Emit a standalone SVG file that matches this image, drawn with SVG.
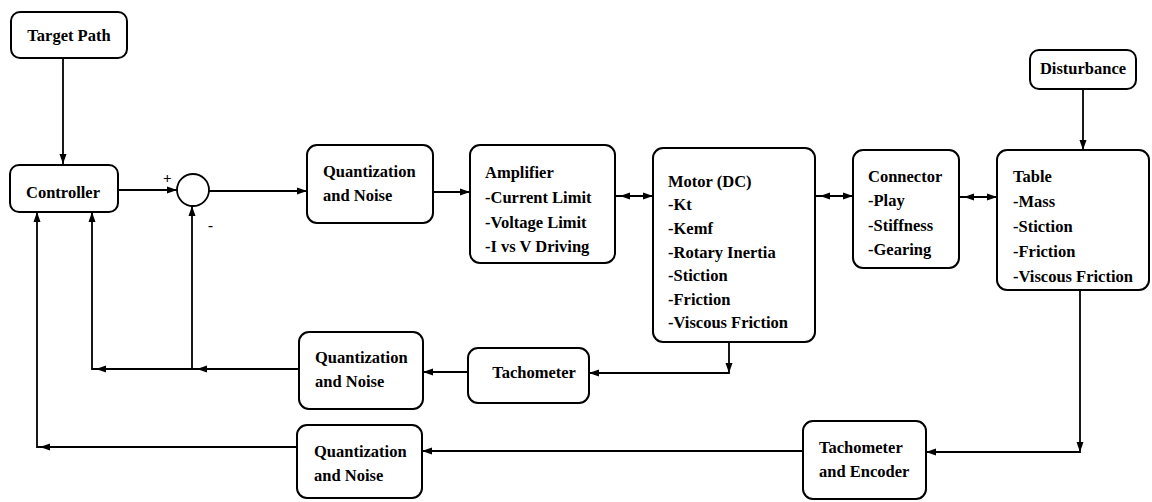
<svg xmlns="http://www.w3.org/2000/svg" xmlns:xlink="http://www.w3.org/1999/xlink" width="1152" height="502" viewBox="0 0 1152 502">
<style>
  .box { fill: #ffffff; stroke: #000000; stroke-width: 2; }
  .t { font-family: 'Liberation Serif', 'DejaVu Serif', serif; font-weight: 700; font-size: 16.5px; fill: #000000; }
  .c { text-anchor: middle; }
  .ln { fill: none; stroke: #000000; stroke-width: 1.8; }
  .sign { font-family: 'Liberation Serif', 'DejaVu Serif', serif; font-weight: 700; font-size: 15px; fill: #000000; }
</style>
<defs>
  <marker id="arr" markerUnits="userSpaceOnUse" markerWidth="11" markerHeight="8" refX="10" refY="4" orient="auto">
    <path d="M0,0.5 L10,4 L0,7.5 z" fill="#000000"/>
  </marker>
  <path id="ah" d="M0,0 L-10,-3.5 L-10,3.5 z" fill="#000000"/>
</defs>
<rect width="1152" height="502" fill="#ffffff"/>

<g id="connectors">
  <path class="ln" d="M63,58 V164" marker-end="url(#arr)"/>
  <path class="ln" d="M118,190 H177" marker-end="url(#arr)"/>
  <path class="ln" d="M209,191 H307" marker-end="url(#arr)"/>
  <path class="ln" d="M433,192 H470" marker-end="url(#arr)"/>
  <path class="ln" d="M615,196 H653" marker-end="url(#arr)"/>
  <use xlink:href="#ah" transform="translate(620,196) rotate(180)"/>
  <path class="ln" d="M815,196 H853" marker-end="url(#arr)"/>
  <use xlink:href="#ah" transform="translate(820,196) rotate(180)"/>
  <path class="ln" d="M959,197 H997" marker-end="url(#arr)"/>
  <use xlink:href="#ah" transform="translate(964,197) rotate(180)"/>
  <path class="ln" d="M1083,89 V150" marker-end="url(#arr)"/>
  <path class="ln" d="M729,342 V373 H589" marker-end="url(#arr)"/>
  <use xlink:href="#ah" transform="translate(729,373) rotate(90)"/>
  <path class="ln" d="M468,372 H423" marker-end="url(#arr)"/>
  <path class="ln" d="M299,369 H92 V212" marker-end="url(#arr)"/>
  <use xlink:href="#ah" transform="translate(96,369) rotate(180)"/>
  <use xlink:href="#ah" transform="translate(197,369) rotate(180)"/>
  <path class="ln" d="M192,369 V206" marker-end="url(#arr)"/>
  <path class="ln" d="M803,451 H422" marker-end="url(#arr)"/>
  <path class="ln" d="M297,447 H37 V212" marker-end="url(#arr)"/>
  <use xlink:href="#ah" transform="translate(40,447) rotate(180)"/>
  <path class="ln" d="M1080,290 V452 H926" marker-end="url(#arr)"/>
  <use xlink:href="#ah" transform="translate(1080,452) rotate(90)"/>
</g>

<g id="target-path">
  <rect class="box" x="11" y="12" width="116" height="46" rx="9"/>
  <text class="t c" x="69" y="41">Target Path</text>
</g>
<g id="controller">
  <rect class="box" x="10" y="165" width="108" height="47" rx="9"/>
  <text class="t c" x="63" y="198">Controller</text>
</g>
<g id="sum">
  <circle cx="193" cy="190" r="16" fill="#ffffff" stroke="#000000" stroke-width="1.8"/>
  <text class="sign" x="163" y="183">+</text>
  <text class="sign" x="208" y="230">-</text>
</g>
<g id="quant1">
  <rect class="box" x="307" y="145" width="126" height="78" rx="10"/>
  <text class="t" x="323" y="177">Quantization</text>
  <text class="t" x="323" y="201">and Noise</text>
</g>
<g id="amplifier">
  <rect class="box" x="470" y="145" width="145" height="118" rx="10"/>
  <text class="t" x="485" y="178">Amplifier</text>
  <text class="t" x="485" y="203">-Current Limit</text>
  <text class="t" x="485" y="228">-Voltage Limit</text>
  <text class="t" x="485" y="252">-I vs V Driving</text>
</g>
<g id="motor">
  <rect class="box" x="653" y="148" width="162" height="194" rx="10"/>
  <text class="t" x="668" y="187">Motor (DC)</text>
  <text class="t" x="668" y="210">-Kt</text>
  <text class="t" x="668" y="234">-Kemf</text>
  <text class="t" x="668" y="258">-Rotary Inertia</text>
  <text class="t" x="668" y="281">-Stiction</text>
  <text class="t" x="668" y="305">-Friction</text>
  <text class="t" x="668" y="328">-Viscous Friction</text>
</g>
<g id="connector">
  <rect class="box" x="853" y="150" width="106" height="118" rx="10"/>
  <text class="t" x="868" y="182">Connector</text>
  <text class="t" x="868" y="206">-Play</text>
  <text class="t" x="868" y="231">-Stiffness</text>
  <text class="t" x="868" y="255">-Gearing</text>
</g>
<g id="disturbance">
  <rect class="box" x="1030" y="50" width="106" height="39" rx="9"/>
  <text class="t c" x="1083" y="74">Disturbance</text>
</g>
<g id="table">
  <rect class="box" x="997" y="150" width="152" height="140" rx="10"/>
  <text class="t" x="1013" y="182">Table</text>
  <text class="t" x="1013" y="207">-Mass</text>
  <text class="t" x="1013" y="232">-Stiction</text>
  <text class="t" x="1013" y="257">-Friction</text>
  <text class="t" x="1013" y="282">-Viscous Friction</text>
</g>
<g id="tachometer">
  <rect class="box" x="468" y="348" width="121" height="55" rx="10"/>
  <text class="t c" x="534" y="378">Tachometer</text>
</g>
<g id="quant2">
  <rect class="box" x="299" y="332" width="124" height="77" rx="10"/>
  <text class="t" x="315" y="363">Quantization</text>
  <text class="t" x="315" y="387">and Noise</text>
</g>
<g id="quant3">
  <rect class="box" x="297" y="425" width="125" height="73" rx="10"/>
  <text class="t" x="314" y="457">Quantization</text>
  <text class="t" x="314" y="481">and Noise</text>
</g>
<g id="tach-encoder">
  <rect class="box" x="803" y="421" width="123" height="78" rx="10"/>
  <text class="t" x="819" y="453">Tachometer</text>
  <text class="t" x="819" y="477">and Encoder</text>
</g>
</svg>
